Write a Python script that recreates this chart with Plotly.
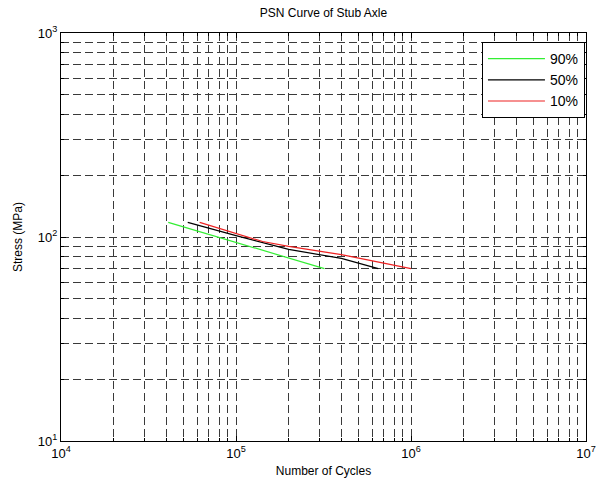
import plotly.graph_objects as go

# Data (Number of Cycles, Stress MPa)
cycles_90 = [4.1e4, 1.0e5, 3.2e5]
stress_90 = [118, 94, 70]

cycles_50 = [5.3e4, 1.0e5, 2.0e5, 4.0e5, 6.5e5]
stress_50 = [118, 101.5, 87, 78.5, 70]

cycles_10 = [6.2e4, 1.0e5, 1.42e5, 2.0e5, 4.0e5, 1.0e6]
stress_10 = [118, 104.5, 95, 90, 82, 70]

series_names = ["90%", "50%", "10%"]
series_colors = ["#33ee33", "#000000", "#ee2222"]

x_tickvals = [1e4, 1e5, 1e6, 1e7]
x_ticktext = ["10<sup>4</sup>", "10<sup>5</sup>", "10<sup>6</sup>", "10<sup>7</sup>"]
y_tickvals = [10, 100, 1000]
y_ticktext = ["10<sup>1</sup>", "10<sup>2</sup>", "10<sup>3</sup>"]

fig = go.Figure()
for xs, ys, name, col in zip([cycles_90, cycles_50, cycles_10],
                             [stress_90, stress_50, stress_10],
                             series_names, series_colors):
    fig.add_trace(go.Scatter(x=xs, y=ys, mode="lines", name=name,
                             line=dict(color=col, width=1.2)))

font = "Liberation Sans, Arial, sans-serif"
grid_col = "#3a3a3a"
axis_common = dict(
    showline=True, linecolor="black", linewidth=1.2, mirror="ticks",
    ticks="inside", ticklen=5, tickcolor="black",
    showgrid=True, gridcolor=grid_col, griddash="8px,4px", gridwidth=1,
    zeroline=False,
    tickfont=dict(family=font, size=13, color="black"),
    minor=dict(dtick="D1", showgrid=True, gridcolor=grid_col, griddash="8px,4px",
               gridwidth=1, ticks="inside", ticklen=3, tickcolor="black"),
)

fig.update_xaxes(type="log", range=[4, 7], tickvals=x_tickvals, ticktext=x_ticktext,
                 title=dict(text="Number of Cycles", font=dict(family=font, size=12, color="black"), standoff=6),
                 **axis_common)
fig.update_yaxes(type="log", range=[1, 3], tickvals=y_tickvals, ticktext=y_ticktext,
                 title=dict(text="Stress (MPa)", font=dict(family=font, size=12, color="black"), standoff=12),
                 **axis_common)

fig.update_layout(
    width=606, height=490,
    margin=dict(l=61, r=10, t=33, b=49),
    paper_bgcolor="white", plot_bgcolor="white",
    title=dict(text="PSN Curve of Stub Axle", x=0.5, xref="paper", xanchor="center",
               y=1 - 13 / 490, yref="container", yanchor="middle",
               font=dict(family=font, size=12, color="black")),
    legend=dict(x=0.998, xanchor="right", y=0.978, yanchor="top",
                bgcolor="white", bordercolor="black", borderwidth=1,
                font=dict(family=font, size=14, color="black"),
                itemwidth=57, tracegroupgap=0),
    showlegend=True,
)

fig.write_html("out.html", config={"displayModeBar": False},
               post_script="document.body.style.margin='0px';")
